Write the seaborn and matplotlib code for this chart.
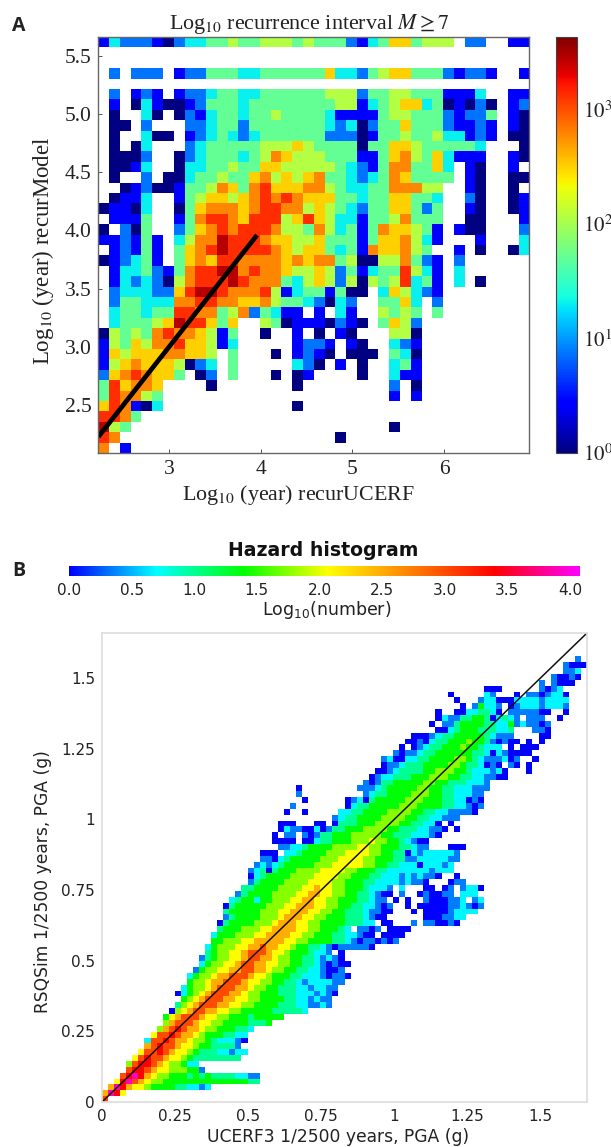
import numpy as np
import pandas as pd
import matplotlib
matplotlib.use("Agg")
import matplotlib.pyplot as plt
from matplotlib.colors import LogNorm, Normalize, LinearSegmentedColormap
import seaborn as sns

W, H = 611, 1147

# ---- Panel A: 40 x 40 cells, top row first; each character is a colour level
A_ROWS = [
"1322210233"+"4454455545"+"4442134664"+"555.22..11",
"."*40,
"."*40,
".2.222.122"+"4443344444"+"4633245664"+"4421221..1",
"."*40,
".2.121.122"+"3443344444"+"4555244554"+"441113..11",
".1.0310012"+"4443444444"+"4455134566"+"3401020.12",
".0..30.021"+"3443445444"+"4311114554"+"4421224.10",
".00.2...22"+"3442444444"+"4323024464"+"4421121.10",
".0..300.12"+"3432344444"+"4222014454"+"4533121.00",
".0.03...23"+"4444455565"+"4444044665"+"444443...0",
".0002..023"+"4443457655"+"5444114675"+"463111..10",
".0013..033"+"4454466555"+"5543214774"+"463.10..1.",
".0..2.0034"+"4544675656"+"7443234764"+"444.10..00",
"..01200144"+"5764786667"+"7543344777"+"55..10..0.",
".0113..145"+"6656787876"+"6644344664"+"43..20..01",
"01103..046"+"7776788775"+"6543244664"+"24..10..01",
".1114..147"+"8876888568"+"6533144574"+"44..00...1",
"0.204..246"+"7878887554"+"7534147665"+"41.100...2",
"112141.357"+"7988876655"+"6444146675"+"31...1...3",
".12141.467"+"8988887656"+"6434176675"+"4..1.0..03",
"012341.467"+"6887777676"+"7745005574"+"21.2......",
".133421478"+"8997877655"+"6524134485"+"31.3......",
".132320578"+"8898777435"+"6525054583"+"41.3.0....",
".233322689"+"9877785134"+"41400.3653"+"21........",
".244333778"+"8776675443"+"2032..4463"+".2........",
".344344887"+"745724311."+"1.31..5454"+".4........",
".344456988"+"646..54011"+"10210.4652"+"..........",
"0545478776"+"514..0..1."+"0.10...550"+"..........",
"1546577866"+"513.....12"+"21.10..321"+"..........",
"1656667766"+"5.4...0.12"+"10.000.430"+"..........",
"1567666502"+"3.4.....32"+"0.1.0..341"+"..........",
"26787664.0"+"2.4...0.01"+"....0..311"+"..........",
"486776...."+"0.......0."+".......2.0"+"..........",
"487754...."+".........."+".......1.1"+"..........",
"687103...."+"........0."+".........."+"..........",
"8874......"+".........."+".........."+"..........",
"954......."+".........."+".......0.."+"..........",
"87........"+".........."+"..0......."+"..........",
"7.1......."+".........."+".........."+"..........",
]
A_LOG_COUNT = {"0": 0.0, "1": 0.44, "2": 0.87, "3": 1.31, "4": 1.71, "5": 2.07,
               "6": 2.5, "7": 2.78, "8": 3.12, "9": 3.45}
A_XLIM = (2.229, 6.93)
A_YLIM = (2.09, 5.66)
A_XTICKS = [3, 4, 5, 6]
A_YTICKS = [2.5, 3.0, 3.5, 4.0, 4.5, 5.0, 5.5]
A_LINE = [2.229, 3.96]
A_CBAR_TICKS = [1, 10, 100, 1000]
A_CBAR_LABELS = ["$10^{0}$", "$10^{1}$", "$10^{2}$", "$10^{3}$"]

# ---- Panel B: 80 x 80 cells, bottom row first; (first column, levels)
B_ROWS = [
(0,"8"),(0,"7m96"),(1,"7m976654444332212"),(2,"69m87655"+"44444444444444"+"33"),
(3,"89m97655444343433332211"),(4,"8998766555441"),(4,"589987655422"),
(5,"689887665433333333"),(6,"688987665433322122"),(7,"7898876654433331"),
(7,"28898776554322210"),(8,"6889877654443322"),(9,"5789877655444332"),
(10,"578887665544443334"),(10,"46788876655444344444"),
(11,"05678877665544444333332"),
(12,"35678887766554444333221121"),
(13,"4567888776655444433221211"),
(12,"024567888776554443332221210"),
(13,"24556788877655443332212211"),
(14,"45567788876655443321222211"),
(14,"245567788876654443322210110"),
(15,"1455667788776554433221001"),
(16,"2455667887766554433210100"),
(16,"134556678877655443321210"),
(17,"34556678887"+"6654443221.0"),
(17,"24555667787766544332"+"10111110"),
(18,"44555667777766554444"+"33210110101"),
(18,"2444555667"+"7776655444"+"33221"+"00.0000"),
(19,"3444555667"+"7776655444"+"32.1101"+".0000"),
(19,"0344445556"+"7776655444"+"433322"+".00..."+"1.110010"),
(20,"1344445556"+"7776655444"+"3332100..."+"...0001122"),
(20,"3444445556"+"6777665544"+"33321100.."+".0.0000122"+"22"),
(20,"0344444555"+"6677766554"+"43322101.."+"0.00000112"+"101"),
(21,"234424455"+"5667766554"+"4433211.0."+"0..1000112"+".12"),
(22,"13444455"+"5566776655"+"44332100.1"+"..010011.2"+"22"),
(23,"3344445"+"5556676655"+"44432221.2"+"...00.01.1"+"220"),
(24,"134444"+"5555666655"+"4443322221"+"2110...011"),
(24,"023444"+"4555566665"+"5444332221"+"212110..0"),
(24,"123034"+"4455556666"+"5544433222"+"22221222"),
(25,"12123"+"4444455566"+"6665544332"+"22022212"),
(26,"1102"+"3444445556"+"6665544433"+"112222211"),
(26,"000."+"2234444555"+"6666554433"+"021222221"),
(29,"1"+"1223444455"+"5566554443"+"3211...000"),
(28,"00"+"00.0023344"+"4555655443"+"2100"),
(28,"0."+"11.1013344"+"4555554433"+"322210"),
(29,"0"+"2110020133"+"4445555443"+"3322110.0"),
(29,"000"+"...00.03"+"3344455554"+"433220.0"),
(38,"12"+"3344445555"+"443322111"),
(30,"0..0"+".....2"+"2334444555"+"5443322111"+"10"),
(31,"1"+"........"+"0233444445"+"5544443322"+"101"),
(33,"0"+"......"+"0120344444"+"5554443322"+"010"),
(32,"1"+".........."+"1233444"+"4555443322"+"211"),
(32,"0"+"........."+"11123444"+"4455443322"+"2111"),
(43,"1013344"+"4445544333"+"2221"),
(44,"012233"+"3444555443"+"3221100"),
(45,"00123"+"3334455544"+"3222120..."+"0"),
(46,"0112"+"3334444554"+"332010.10."+"0"),
(46,"1200"+"2233444455"+"432111201."+".0"),
(48,"10"+"1123344444"+"4332021000"+"0"),
(49,"0"+".012334445"+"443222.0.0"+"00"),
(50,"0010233444"+"544310100."+"0.0"),
(51,"000123344"+"44432111.."+"..00"),
(55,"00234"+"44333223.."+".110"),
(54,"0.1134"+"4443322412"+"1101"),
(55,"02113"+"344302321."+"111..0"),
(55,"0..00"+"223320.111"+"1100..0"),
(59,"0"+".14221.012"+"2212221"),
(58,"0."+"..12200022"+"2212222"),
(57,"0.."+"...21...0."+"1101220"),
(63,"000"+"......"+"1012"),
(72,"1.1000"),(74,"10010"),(76,"112"),(76,"1000"),(78,"1"),
]
B_LOG_COUNT = {"0": 0.0, "1": 0.35, "2": 0.68, "3": 1.0, "4": 1.38, "5": 1.75,
               "6": 2.07, "7": 2.5, "8": 3.0, "9": 3.41, "m": 3.9}
B_LIM = (0, 1.66)
B_TICKS = [0, 0.25, 0.5, 0.75, 1, 1.25, 1.5]
B_TICK_LABELS = ["0", "0.25", "0.5", "0.75", "1", "1.25", "1.5"]
B_CBAR_TICKS = [0.0, 0.5, 1.0, 1.5, 2.0, 2.5, 3.0, 3.5, 4.0]
B_CBAR_MAX = 4.08

sns.set_theme(style="white")
plt.rcParams["font.family"] = ["DejaVu Sans"]
plt.rcParams["mathtext.fontset"] = "stix"


def px_axes(fig, x0, y0, x1, y1):
    return fig.add_axes([x0 / W, 1 - y1 / H, (x1 - x0) / W, (y1 - y0) / H])


fig = plt.figure(figsize=(W / 100, H / 100), dpi=100, facecolor="white")
SERIF = "Liberation Serif"

# ---------- Panel A
a_grid = np.full((40, 40), np.nan)
for r, row in enumerate(A_ROWS):
    for c, ch in enumerate(row[:40]):
        if ch != ".":
            a_grid[r, c] = 10 ** A_LOG_COUNT[ch]
a_df = pd.DataFrame(a_grid)

ax_a = px_axes(fig, 98.3, 37, 529.3, 453)
cax_a = px_axes(fig, 556, 37, 577, 453)
sns.heatmap(a_df, ax=ax_a, cbar_ax=cax_a, cmap="jet",
            norm=LogNorm(vmin=1, vmax=10 ** 3.63), xticklabels=False, yticklabels=False)


def ax_x(v):
    return (np.asarray(v) - A_XLIM[0]) / (A_XLIM[1] - A_XLIM[0]) * 40


def ax_y(v):
    return (A_YLIM[1] - np.asarray(v)) / (A_YLIM[1] - A_YLIM[0]) * 40


ax_a.plot(ax_x(A_LINE), ax_y(A_LINE), color="black", lw=3.4, solid_capstyle="butt")
ax_a.set_xticks(ax_x(A_XTICKS))
ax_a.set_xticklabels([str(v) for v in A_XTICKS], fontfamily=SERIF, fontsize=15.5, color="#222222")
ax_a.set_yticks(ax_y(A_YTICKS))
ax_a.set_yticklabels([f"{v:.1f}" for v in A_YTICKS], fontfamily=SERIF, fontsize=15.5,
                     color="#222222", rotation=0)
ax_a.tick_params(axis="both", direction="in", length=3, width=0.7, color="#555555",
                 bottom=True, left=True, pad=5)
for s in ax_a.spines.values():
    s.set_visible(True)
    s.set_color("#666666")
    s.set_linewidth(1.0)
fig.text(309 / W, 1 - 29 / H, r"Log$_{10}$ recurrence interval $M \geq 7$", ha="center", va="baseline",
         fontfamily=SERIF, fontsize=15.8, color="#222222")
fig.text(298 / W, 1 - 500 / H, r"Log$_{10}$ (year) recurUCERF", ha="center", va="baseline",
         fontfamily=SERIF, fontsize=15.8, color="#222222")
fig.text(43 / W, 1 - 251 / H, r"Log$_{10}$ (year) recurModel", ha="center", va="center", rotation=90,
         fontfamily=SERIF, fontsize=16.5, color="#222222")
cb = ax_a.collections[0].colorbar
cb.set_ticks(A_CBAR_TICKS)
cb.set_ticklabels(A_CBAR_LABELS)
cb.minorticks_off()
cb.ax.tick_params(direction="in", length=3, width=0.7, color="#333333", pad=4)
for t in cb.ax.get_yticklabels():
    t.set_fontfamily(SERIF)
    t.set_fontsize(15)
    t.set_color("#222222")
cb.outline.set_edgecolor("#444444")
cb.outline.set_linewidth(0.8)

fig.text(12 / W, 1 - 31 / H, "A", fontfamily="Open Sans", fontweight="bold", fontsize=14, color="#222222")
fig.text(12 / W, 1 - 576 / H, "B", fontfamily="Open Sans", fontweight="bold", fontsize=14, color="#222222")

# ---------- Panel B
b_grid = np.full((80, 80), np.nan)
for r, (start, cells) in enumerate(B_ROWS):
    for k, ch in enumerate(cells):
        if ch != "." and start + k < 80:
            b_grid[r, start + k] = B_LOG_COUNT[ch]
b_df = pd.DataFrame(b_grid)

hazard = LinearSegmentedColormap.from_list("hazard", [
    (0.0, "#0000ff"), (0.17, "#00ffff"), (0.34, "#00ff00"), (0.506, "#ffff00"),
    (0.834, "#ff0000"), (1.0, "#ff00ff")])

ax_b = px_axes(fig, 102, 633, 587, 1102)
cax_b = px_axes(fig, 69, 566, 580, 576)
sns.heatmap(b_df, ax=ax_b, cbar_ax=cax_b, cmap=hazard, norm=Normalize(0, B_CBAR_MAX),
            cbar_kws={"orientation": "horizontal"}, xticklabels=False, yticklabels=False)
ax_b.invert_yaxis()


def b_pos(v):
    return np.asarray(v) / B_LIM[1] * 80


ax_b.plot(b_pos(B_LIM), b_pos(B_LIM), color="#111111", lw=1.1)
ax_b.set_xticks(b_pos(B_TICKS))
ax_b.set_xticklabels(B_TICK_LABELS, fontsize=11, color="#222222", rotation=0)
ax_b.set_yticks(b_pos(B_TICKS))
ax_b.set_yticklabels(B_TICK_LABELS, fontsize=11, color="#222222", rotation=0)
ax_b.tick_params(axis="both", length=0, pad=5)
for s in ax_b.spines.values():
    s.set_visible(True)
    s.set_color("#dddddd")
    s.set_linewidth(1.2)
fig.text(338 / W, 1 - 1142 / H, "UCERF3 1/2500 years, PGA (g)", ha="center", va="baseline",
         fontsize=12.3, color="#222222")
fig.text(43 / W, 1 - 882 / H, "RSQSim 1/2500 years, PGA (g)", ha="center", va="center", rotation=90,
         fontsize=12.3, color="#222222")

cb2 = ax_b.collections[0].colorbar
cb2.set_ticks(B_CBAR_TICKS)
cb2.set_ticklabels([f"{v:.1f}" for v in B_CBAR_TICKS])
cb2.ax.tick_params(length=0, pad=5, labelsize=11, labelcolor="#222222")
cb2.outline.set_visible(False)
fig.text(327 / W, 1 - 615 / H, r"Log$_{10}$(number)", ha="center", va="baseline", fontsize=12.5,
         color="#222222", math_fontfamily="dejavusans")
fig.text(323 / W, 1 - 556 / H, "Hazard histogram", ha="center", va="baseline",
         fontweight="bold", fontsize=13.6, color="#111111")

fig.savefig("out.png", dpi=100, facecolor="white")
